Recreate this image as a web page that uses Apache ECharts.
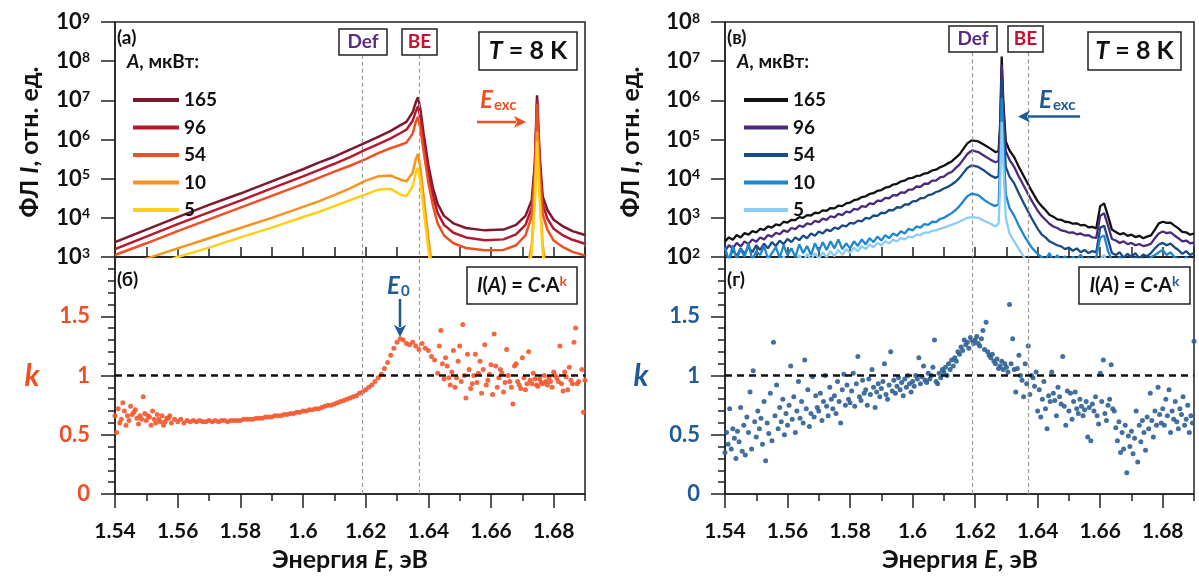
<!DOCTYPE html>
<html><head><meta charset="utf-8">
<script src="https://cdn.jsdelivr.net/npm/echarts@6/dist/echarts.min.js"></script>
<style>html,body{margin:0;padding:0;background:#fff}#c{width:1199px;height:576px}</style>
</head><body><div id="c"></div>
<script>
// ---------- data ----------
const xMin = 1.54, xMax = 1.69, xStep = 0.02;
const powers = ['165', '96', '54', '10', '5'];           // мкВт
const defE = 1.619, beE = 1.637;

// panel (a): energies and log10 of PL intensity
const eLeft = [1.540,1.550,1.560,1.570,1.580,1.590,1.600,1.605,1.610,1.615,1.620,1.624,1.628,1.631,1.633,1.635,1.636,1.6367,1.6375,1.6385,1.640,1.6415,1.643,1.645,1.648,1.652,1.658,1.664,1.668,1.671,1.673,1.674,1.6747,1.6755,1.6765,1.678,1.680,1.683,1.686,1.690];
const logL165 = [3.38,3.70,4.02,4.33,4.62,4.93,5.24,5.41,5.56,5.74,5.92,6.07,6.22,6.36,6.45,6.70,6.95,7.08,6.75,6.15,5.35,4.75,4.35,4.05,3.86,3.74,3.68,3.70,3.82,4.05,4.45,5.40,7.13,5.60,4.55,4.20,3.95,3.78,3.66,3.56];
const logL96  = [3.20,3.52,3.84,4.14,4.44,4.75,5.06,5.22,5.38,5.55,5.74,5.88,6.03,6.16,6.25,6.48,6.72,6.85,6.55,5.95,5.15,4.55,4.12,3.82,3.62,3.50,3.43,3.45,3.58,3.82,4.25,5.30,7.00,5.45,4.35,3.98,3.72,3.55,3.44,3.34];
const logL54  = [3.05,3.35,3.66,3.96,4.26,4.56,4.86,5.02,5.18,5.33,5.50,5.65,5.78,5.86,5.92,6.15,6.45,6.58,6.25,5.70,4.90,4.30,3.85,3.55,3.35,3.23,3.17,3.18,3.30,3.55,4.05,5.15,6.90,5.25,4.10,3.70,3.42,3.25,3.13,3.04];
const logL10  = [2.70,2.96,3.22,3.48,3.74,4.00,4.28,4.42,4.58,4.75,4.95,5.06,5.08,4.98,4.93,5.15,5.50,5.63,5.25,4.55,3.50,2.50,2.00,2.00,2.00,2.00,2.00,2.00,2.00,2.50,3.30,4.60,6.20,4.70,3.30,2.40,2.00,2.00,2.00,2.00];
const logL5   = [2.40,2.70,3.00,3.24,3.50,3.75,4.02,4.15,4.30,4.45,4.60,4.72,4.74,4.60,4.55,4.80,5.15,5.28,4.90,4.20,3.20,2.30,2.00,2.00,2.00,2.00,2.00,2.00,2.00,2.30,3.10,4.40,5.95,4.50,3.10,2.20,2.00,2.00,2.00,2.00];

// panel (в): three energy ranges (A: low-energy wing, B: Def / BE region, C: high-energy side)
const eRightA = [1.540,1.54125,1.5425,1.54375,1.545,1.54625,1.5475,1.54875,1.550,1.55125,1.5525,1.55375,1.555,1.55625,1.5575,1.55875,1.560,1.56125,1.5625,1.56375,1.565,1.56625,1.5675,1.56875,1.570,1.57125,1.5725,1.57375,1.575,1.57625,1.5775,1.57875,1.580,1.58125,1.5825,1.58375,1.585,1.58625,1.5875,1.58875,1.590,1.59125,1.5925,1.59375,1.595,1.59625,1.5975,1.59875,1.600,1.60125,1.6025,1.60375,1.605,1.60625,1.6075,1.60875,1.610,1.61125,1.6125,1.61375,1.615];
const eRightB = [1.6175,1.619,1.621,1.623,1.625,1.6265,1.6275,1.628,1.6285,1.629,1.6298,1.631,1.6325,1.634,1.636,1.638];
const eRightC = [1.640,1.64125,1.6425,1.64375,1.645,1.64625,1.6475,1.64875,1.650,1.65125,1.6525,1.65375,1.655,1.65625,1.6575,1.65875,1.660,1.66125,1.6625,1.66375,1.665,1.66625,1.6675,1.66875,1.670,1.67125,1.6725,1.67375,1.675,1.67625,1.6775,1.67875,1.680,1.68125,1.6825,1.68375,1.685,1.68625,1.6875,1.68875,1.690];

const logR165A = [2.40,2.50,2.44,2.56,2.50,2.61,2.57,2.66,2.63,2.72,2.69,2.78,2.75,2.83,2.81,2.90,2.88,2.95,2.94,3.02,3.00,3.07,3.06,3.13,3.12,3.19,3.18,3.25,3.24,3.31,3.30,3.37,3.39,3.45,3.47,3.53,3.55,3.61,3.63,3.69,3.71,3.77,3.79,3.85,3.87,3.93,3.95,4.01,4.02,4.07,4.08,4.13,4.15,4.21,4.23,4.29,4.33,4.39,4.44,4.53,4.62];
const logR165B = [4.90,4.98,4.95,4.86,4.76,4.68,4.70,5.40,7.12,6.00,4.95,4.72,4.55,4.30,4.00,3.70];
const logR165C = [3.42,3.30,3.20,3.08,3.03,2.96,2.95,2.90,2.89,2.85,2.86,2.81,2.82,2.76,2.77,2.73,3.30,3.37,3.05,2.70,2.64,2.58,2.61,2.54,2.57,2.51,2.54,2.48,2.52,2.55,2.70,2.86,2.90,2.87,2.88,2.80,2.73,2.64,2.63,2.57,2.60];

const logR96A = [2.16,2.30,2.22,2.36,2.27,2.40,2.33,2.45,2.39,2.50,2.45,2.56,2.52,2.62,2.58,2.68,2.64,2.74,2.71,2.80,2.77,2.86,2.83,2.92,2.89,2.98,2.95,3.04,3.01,3.10,3.07,3.16,3.14,3.23,3.21,3.30,3.28,3.37,3.35,3.44,3.43,3.51,3.50,3.58,3.57,3.65,3.64,3.72,3.72,3.80,3.79,3.87,3.87,3.95,3.95,4.03,4.05,4.13,4.17,4.27,4.36];
const logR96B = [4.63,4.72,4.68,4.58,4.48,4.42,4.45,5.20,6.90,5.80,4.70,4.48,4.30,4.05,3.75,3.45];
const logR96C = [3.18,3.05,2.95,2.85,2.78,2.74,2.68,2.66,2.62,2.63,2.58,2.60,2.55,2.56,2.50,2.49,3.05,3.12,2.80,2.46,2.42,2.36,2.40,2.33,2.36,2.30,2.33,2.28,2.30,2.34,2.48,2.60,2.65,2.61,2.63,2.55,2.48,2.40,2.42,2.35,2.37];

const logR54A = [2.10,1.95,2.18,2.02,2.22,2.08,2.26,2.12,2.30,2.18,2.34,2.22,2.38,2.28,2.42,2.33,2.46,2.38,2.50,2.43,2.55,2.48,2.60,2.54,2.65,2.60,2.70,2.66,2.75,2.72,2.81,2.78,2.87,2.85,2.93,2.91,3.00,2.98,3.06,3.05,3.13,3.12,3.20,3.19,3.27,3.26,3.34,3.34,3.42,3.43,3.50,3.51,3.58,3.60,3.66,3.69,3.75,3.79,3.85,3.92,4.02];
const logR54B = [4.27,4.34,4.30,4.20,4.08,4.02,4.06,4.90,6.55,5.50,4.30,4.05,3.88,3.62,3.30,3.00];
const logR54C = [2.72,2.58,2.50,2.40,2.35,2.30,2.27,2.20,2.24,2.16,2.22,2.12,2.18,2.10,2.15,2.12,2.75,2.80,2.45,2.10,2.05,2.12,1.98,2.08,2.00,2.10,1.96,2.06,2.02,2.10,2.22,2.32,2.36,2.30,2.34,2.25,2.18,2.08,2.15,2.05,2.10];

const logR10A = [2.25,1.90,2.30,1.95,2.20,2.00,2.35,1.92,2.15,2.05,2.28,1.95,2.10,2.25,1.98,2.30,2.05,2.22,2.00,2.32,2.10,2.28,2.05,2.35,2.15,2.38,2.18,2.40,2.22,2.45,2.20,2.35,2.22,2.40,2.28,2.45,2.32,2.48,2.38,2.52,2.42,2.56,2.48,2.60,2.54,2.66,2.60,2.72,2.68,2.78,2.75,2.84,2.82,2.90,2.89,2.97,3.00,3.06,3.12,3.20,3.30];
const logR10B = [3.55,3.62,3.58,3.45,3.35,3.30,3.35,4.40,6.05,5.00,3.60,3.25,3.05,2.80,2.50,2.25];
const logR10C = [2.08,2.00,1.92,2.10,1.88,2.05,1.90,2.02,1.85,2.00,1.92,2.06,1.88,1.98,1.90,2.00,2.50,2.55,2.15,1.92,1.85,2.00,1.88,1.95,1.82,1.98,1.86,1.96,1.90,2.00,2.05,2.12,2.18,2.05,2.12,2.00,1.95,1.88,2.00,1.90,1.96];

const logR5A = [1.75,1.90,1.70,1.85,1.72,1.95,1.78,1.88,1.70,1.92,1.80,1.98,1.75,1.90,1.82,2.02,1.80,1.95,1.85,2.05,1.88,2.08,1.92,2.10,1.95,2.12,2.00,2.15,2.02,2.18,2.05,2.20,2.10,2.24,2.14,2.28,2.20,2.32,2.25,2.36,2.30,2.40,2.35,2.44,2.40,2.48,2.45,2.52,2.50,2.57,2.56,2.62,2.62,2.67,2.68,2.72,2.75,2.79,2.82,2.86,2.90];
const logR5B = [3.00,3.02,3.00,2.92,2.85,2.78,2.85,3.80,5.45,4.40,3.00,2.60,2.40,2.20,1.95,1.80];
const logR5C = [1.75,1.70,1.72,1.68,1.70,1.66,1.70,1.68,1.70,1.66,1.70,1.68,1.70,1.66,1.70,1.72,1.95,2.05,1.80,1.70,1.68,1.70,1.66,1.70,1.68,1.70,1.66,1.70,1.68,1.72,1.75,1.80,1.85,1.80,1.82,1.75,1.72,1.70,1.72,1.68,1.70];

// panel (б): k sampled every 0.001 eV from 1.540
const kLeftStart = 1.540, kLeftStep = 0.001;
const kLeft = [0.66,0.72,0.63,0.70,0.66,0.74,0.69,0.64,0.66,0.82,
0.62,0.65,0.70,0.60,0.63,0.66,0.61,0.64,0.60,0.63,
0.61,0.63,0.60,0.62,0.61,0.62,0.61,0.62,0.61,0.61,
0.62,0.61,0.62,0.61,0.62,0.62,0.61,0.62,0.62,0.62,
0.62,0.63,0.63,0.63,0.63,0.64,0.64,0.64,0.65,0.65,
0.65,0.66,0.66,0.66,0.67,0.67,0.68,0.68,0.69,0.69,
0.70,0.70,0.71,0.71,0.72,0.72,0.73,0.74,0.75,0.75,
0.76,0.77,0.78,0.79,0.80,0.81,0.82,0.83,0.85,0.86,
0.88,0.90,0.92,0.95,0.98,1.01,1.06,1.11,1.17,1.23,
1.28,1.31,1.30,1.27,1.26,1.28,1.25,1.22,1.27,1.23,
1.21,1.16,1.13,1.02,1.38,0.97,1.08,0.92,1.21,0.98,
1.25,1.43,0.81,1.05,0.93,1.18,1.02,0.85,1.26,0.96,
1.09,1.35,0.90,1.05,0.86,1.22,0.95,0.76,1.10,0.92,
1.15,0.88,1.20,0.93,0.97,0.91,0.94,1.00,0.92,0.95,
1.03,0.98,1.25,0.87,0.99,1.07,0.93,1.40,0.95,1.05,
0.96];
// extra scattered points of panel (б)
const kLeftExtraE = [1.5405,1.5415,1.5425,1.5435,1.5445,1.5455,1.5465,1.5475,1.5485,1.5495,1.5505,1.5515,1.5525,1.5535,1.5545,1.5555,1.5565,1.5575,
1.6435,1.6445,1.6455,1.6465,1.6475,1.6485,1.6495,1.6505,1.6515,1.6525,1.6535,1.6545,1.6555,1.6565,1.6575,1.6585,1.6595,1.6605,1.6615,1.6625,1.6635,1.6645,1.6655,1.6665,1.6675,1.6685,1.6695,1.6705,1.6715,1.6725,1.6735,1.6745,1.6755,1.6765,1.6775,1.6785,1.6795,1.6805,1.6815,1.6825,1.6835,1.6845,1.6855,1.6865,1.6875,1.6895];
const kLeftExtraK = [0.52,0.60,0.77,0.58,0.62,0.67,0.71,0.59,0.63,0.68,0.66,0.58,0.63,0.67,0.61,0.58,0.64,0.66,
1.25,1.10,1.15,0.98,1.03,0.90,1.12,0.95,1.00,1.18,0.89,1.00,0.94,1.12,1.05,0.92,1.01,0.84,1.08,0.98,1.02,0.94,1.00,0.90,1.08,0.95,0.89,0.98,0.93,0.96,1.02,0.92,0.97,0.93,0.95,0.98,0.90,1.00,0.95,0.93,1.03,0.88,0.96,1.28,0.93,0.69];

// panel (г): k sampled every 0.0005 eV from 1.540
const kRightStart = 1.540, kRightStep = 0.0005;
const kRight = [0.35,0.52,0.42,0.72,0.38,0.55,0.47,0.30,0.53,0.44,
0.73,0.36,0.58,0.33,0.65,0.52,0.86,0.38,1.04,0.61,
0.48,0.70,0.55,0.64,0.42,0.78,0.28,0.60,0.51,0.85,
0.45,1.28,0.66,0.92,0.55,0.73,0.61,0.80,0.50,0.68,
0.58,0.75,1.08,0.63,0.82,0.52,0.70,0.95,0.64,0.78,
0.60,1.13,0.72,0.88,0.57,0.68,0.99,0.65,0.83,0.73,
0.70,0.85,0.62,0.78,1.00,0.74,0.66,0.90,0.80,0.72,
0.83,0.68,0.95,0.78,0.60,0.88,1.01,0.75,0.92,0.80,
0.77,0.87,1.02,0.74,0.93,1.16,0.82,0.79,0.96,0.85,
0.88,0.75,0.97,0.84,1.05,0.90,0.73,0.86,0.93,0.82,
0.89,0.95,1.10,0.84,0.80,0.92,1.20,0.87,0.96,0.85,
0.91,0.98,0.88,0.94,0.83,0.97,0.90,1.00,0.93,0.86,
0.95,0.91,1.00,0.97,1.15,0.93,0.99,1.08,0.96,0.94,
1.02,0.97,1.00,1.07,1.30,0.95,0.93,1.02,0.98,1.05,
1.03,1.07,1.00,1.10,1.05,1.13,1.08,1.15,1.12,1.20,
1.18,1.24,1.21,1.30,1.26,1.28,1.23,1.32,1.30,1.27,
1.30,1.33,1.27,1.25,1.31,1.38,1.22,1.45,1.20,1.17,
1.15,1.18,1.12,1.10,1.14,1.06,1.08,1.12,1.05,1.10,
1.07,1.03,1.60,1.10,1.31,1.05,0.86,1.06,1.17,1.00,
0.96,0.82,1.10,0.93,1.25,0.84,1.00,0.98,0.91,1.03,
0.70,0.88,0.65,0.80,0.95,0.72,0.55,0.83,0.78,1.03,
0.85,0.79,0.66,0.90,0.82,0.76,1.16,0.74,0.58,0.87,
0.70,0.85,0.63,0.78,0.86,0.72,0.68,0.80,0.74,0.66,
0.71,0.78,0.48,0.73,0.45,0.76,0.70,0.82,0.66,0.59,
1.02,0.78,1.13,0.68,0.62,0.75,0.80,1.09,0.72,0.70,
0.56,0.45,0.61,0.35,0.52,0.38,0.58,0.18,0.49,0.40,
0.53,0.34,0.47,0.70,0.27,0.58,0.44,0.62,0.52,0.37,
0.65,0.55,0.85,0.62,0.48,0.70,0.58,0.90,0.67,0.60,
0.72,0.58,0.80,0.66,0.88,0.52,0.70,0.63,0.78,0.61,
0.55,0.72,0.67,0.82,0.58,0.63,0.75,0.52,0.66,0.60,
1.29];

// ---------- styling ----------
const TF = 'Lato, "Open Sans", sans-serif';
const colorsL = ['#7b1a2c', '#b5182f', '#f04e23', '#f7931e', '#fdd017'];
const colorsR = ['#111111', '#4b2a7b', '#1a4a85', '#1f86d0', '#8dccf5'];
const orange = '#f04e23', blue = '#1f5a96';
const AX = '#222';

const logsL = [logL165, logL96, logL54, logL10, logL5];
const eRight = [...eRightA, ...eRightB, ...eRightC];
const logsR = [
  [...logR165A, ...logR165B, ...logR165C],
  [...logR96A, ...logR96B, ...logR96C],
  [...logR54A, ...logR54B, ...logR54C],
  [...logR10A, ...logR10B, ...logR10C],
  [...logR5A, ...logR5B, ...logR5C]
];

function mainX(gi, isTop) {
  return {
    type: 'value', gridIndex: gi, min: xMin, max: xMax, interval: xStep, position: 'bottom',
    axisLine: { show: true, onZero: false, lineStyle: { color: AX, width: 1.5 } },
    axisTick: { show: true, inside: isTop, length: isTop ? 10 : 14, lineStyle: { color: AX, width: 1.5 } },
    splitLine: { show: false },
    axisLabel: { show: !isTop, margin: 27, fontFamily: TF, fontWeight: 'bold', fontSize: 21, color: '#111',
      showMaxLabel: false, formatter: v => String(+v.toFixed(2)) }
  };
}
function minorX(gi, isTop) {
  return {
    type: 'value', gridIndex: gi, min: xMin, max: xMax, interval: 0.01, position: 'bottom',
    axisLine: { show: false, onZero: false },
    axisTick: { show: true, inside: isTop, length: isTop ? 10 : 7, lineStyle: { color: AX, width: 1.5 } },
    splitLine: { show: false }, axisLabel: { show: false }
  };
}
function logY(gi, min, max) {
  return {
    type: 'log', logBase: 10, gridIndex: gi, min, max,
    axisLine: { show: true, lineStyle: { color: AX, width: 1.5 } },
    axisTick: { show: true, length: 14, lineStyle: { color: AX, width: 1.5 } },
    splitLine: { show: false }, minorTick: { show: false },
    axisLabel: {
      margin: 25,
      formatter: v => '{b|10}{s|' + Math.round(Math.log10(v)) + '}',
      rich: {
        b: { fontFamily: TF, fontWeight: 'bold', fontSize: 22, color: '#111', lineHeight: 22 },
        s: { fontFamily: TF, fontWeight: 'bold', fontSize: 14, color: '#111', lineHeight: 13, verticalAlign: 'top' }
      }
    }
  };
}
function kY(gi, col) {
  return {
    type: 'value', gridIndex: gi, min: 0, max: 2, interval: 0.5,
    axisLine: { show: true, onZero: false, lineStyle: { color: AX, width: 1.5 } },
    axisTick: { show: true, length: 14, lineStyle: { color: AX, width: 1.5 } },
    minorTick: { show: true, splitNumber: 5, length: 7, lineStyle: { color: AX, width: 1.5 } },
    splitLine: { show: false },
    axisLabel: { margin: 25, fontFamily: TF, fontWeight: 'bold', fontSize: 22, color: col, showMaxLabel: false,
      formatter: v => String(v) }
  };
}

const vDash = { color: '#9a9a9a', width: 1.2, type: [4, 3] };
const series = [];
powers.forEach((p, i) => {
  const s = {
    type: 'line', name: 'L' + p, xAxisIndex: 0, yAxisIndex: 0, color: colorsL[i],
    data: eLeft.map((e, j) => [e, Math.pow(10, logsL[i][j])]),
    showSymbol: false, symbol: 'none', clip: true, z: 2 + i,
    lineStyle: { width: 2.5, color: colorsL[i] }
  };
  if (i === 0) s.markLine = { silent: true, precision: 4, symbol: ['none', 'none'], label: { show: false }, lineStyle: vDash,
    data: [[{ coord: [defE, 1.45e8] }, { coord: [defE, 1e3] }], [{ coord: [beE, 1.45e8] }, { coord: [beE, 1e3] }]] };
  series.push(s);
});
powers.forEach((p, i) => {
  const s = {
    type: 'line', name: 'R' + p, xAxisIndex: 2, yAxisIndex: 2, color: colorsR[i],
    data: eRight.map((e, j) => [e, Math.pow(10, logsR[i][j])]),
    showSymbol: false, symbol: 'none', clip: true, z: 2 + i,
    lineStyle: { width: 2.3, color: colorsR[i] }
  };
  if (i === 0) s.markLine = { silent: true, precision: 4, symbol: ['none', 'none'], label: { show: false }, lineStyle: vDash,
    data: [[{ coord: [defE, 1.7e7] }, { coord: [defE, 1e2] }], [{ coord: [beE, 1.7e7] }, { coord: [beE, 1e2] }]] };
  series.push(s);
});
const kMarks = { silent: true, precision: 4, symbol: ['none', 'none'], label: { show: false },
  data: [
    { xAxis: defE, lineStyle: vDash }, { xAxis: beE, lineStyle: vDash },
    { yAxis: 1, lineStyle: { color: '#111', width: 2.5, type: [7, 5] } }
  ] };
series.push({ type: 'scatter', xAxisIndex: 1, yAxisIndex: 1, symbolSize: 5,
  itemStyle: { color: '#f4572c', opacity: 0.9 },
  data: kLeft.map((k, i) => [kLeftStart + i * kLeftStep, k]), markLine: kMarks, z: 3 });
series.push({ type: 'scatter', xAxisIndex: 1, yAxisIndex: 1, symbolSize: 5,
  itemStyle: { color: '#f4572c', opacity: 0.9 },
  data: kLeftExtraE.map((e, i) => [e, kLeftExtraK[i]]), z: 3 });
series.push({ type: 'scatter', xAxisIndex: 3, yAxisIndex: 3, symbolSize: 5,
  itemStyle: { color: '#2e5f95', opacity: 0.9 },
  data: kRight.map((k, i) => [kRightStart + i * kRightStep, k]), markLine: kMarks, z: 3 });

function legend(left, prefix, w) {
  return {
    data: powers.map(p => prefix + p), orient: 'vertical', left, top: 85,
    itemWidth: w, itemHeight: 4, itemGap: 7.5, icon: 'rect', selectedMode: false,
    formatter: n => n.slice(1),
    textStyle: { fontFamily: TF, fontWeight: 'bold', fontSize: 19, color: '#111', lineHeight: 20 }
  };
}

// ---------- annotations ----------
const base = { fontFamily: TF, fontWeight: 'bold', fill: '#111' };
function T(x, y, text, st, extra) {
  return Object.assign({ type: 'text', x, y, z: 102, style: Object.assign({ text, align: 'left', verticalAlign: 'middle', fontSize: 18 }, base, st || {}) }, extra || {});
}
function box(x, y, w, h) {
  return { type: 'rect', z: 101, shape: { x, y, width: w, height: h }, style: { fill: '#fff', stroke: '#222', lineWidth: 1.5 } };
}
function arrow(x1, y1, x2, y2, col) {
  const dx = x2 - x1, dy = y2 - y1, L = Math.hypot(dx, dy), ux = dx / L, uy = dy / L;
  const hx = x2 - ux * 12, hy = y2 - uy * 12;
  return [
    { type: 'line', z: 102, shape: { x1, y1, x2: hx + ux * 2, y2: hy + uy * 2 }, style: { stroke: col, lineWidth: 2.5 } },
    { type: 'polygon', z: 102, shape: { points: [[x2, y2], [hx - uy * 6, hy + ux * 6], [hx + ux * 3, hy + uy * 3], [hx + uy * 6, hy - ux * 6]] }, style: { fill: col } }
  ];
}
const ital = (size, fill) => ({ fontFamily: TF, fontWeight: 'bold', fontStyle: 'italic', fontSize: size, fill: fill || '#111' });
const supS = (size, fill) => ({ fontFamily: TF, fontWeight: 'bold', fontSize: size, fill: fill || '#111', verticalAlign: 'top', lineHeight: size });
const subS = (size, fill) => ({ fontFamily: TF, fontWeight: 'bold', fontSize: size, fill: fill || '#111', verticalAlign: 'bottom', lineHeight: size });
const eqRich = col => ({ i: Object.assign(ital(20), { lineHeight: 24 }), n: { fontFamily: TF, fontWeight: 'bold', fontSize: 20, fill: '#111', lineHeight: 24 }, k: supS(14, col) });
const exRich = col => ({ e: Object.assign(ital(24, col), { lineHeight: 30 }), s: Object.assign(subS(15, col), { padding: [0, 0, 2, 1] }) });

const graphic = [
  // axis titles
  T(30, 142, 'ФЛ {i|I}, отн. ед.', { fontSize: 25, align: 'center', rich: { i: ital(25) } }, { rotation: Math.PI / 2 }),
  T(631, 142, 'ФЛ {i|I}, отн. ед.', { fontSize: 25, align: 'center', rich: { i: ital(25) } }, { rotation: Math.PI / 2 }),
  T(32, 376, 'k', { fontSize: 30, fontStyle: 'italic', fill: orange, align: 'center' }),
  T(641, 376, 'k', { fontSize: 30, fontStyle: 'italic', fill: blue, align: 'center' }),
  T(350, 560, 'Энергия {i|E}, эВ', { fontSize: 25, align: 'center', rich: { i: ital(25) } }),
  T(960, 560, 'Энергия {i|E}, эВ', { fontSize: 25, align: 'center', rich: { i: ital(25) } }),
  // panel tags
  T(117, 38, '(a)', { fontSize: 19 }), T(727, 38, '(в)', { fontSize: 19 }),
  T(117, 280, '(б)', { fontSize: 19 }), T(727, 280, '(г)', { fontSize: 19 }),
  T(127, 62, '{i|A}, мкВт:', { fontSize: 19, rich: { i: ital(19) } }),
  T(737, 62, '{i|A}, мкВт:', { fontSize: 19, rich: { i: ital(19) } }),
  // Def / BE boxes
  box(339, 29, 48, 26), T(363, 42, 'Def', { fontSize: 19, align: 'center', fill: '#5b2a86' }),
  box(402, 29, 35, 26), T(419.5, 42, 'BE', { fontSize: 19, align: 'center', fill: '#c8102e' }),
  box(949, 26, 48, 26), T(973, 39, 'Def', { fontSize: 19, align: 'center', fill: '#5b2a86' }),
  box(1008, 26, 35, 26), T(1025.5, 39, 'BE', { fontSize: 19, align: 'center', fill: '#c8102e' }),
  // T = 8 K
  box(479, 32, 98, 38), T(528, 51, '{i|T} = 8 K', { fontSize: 25, align: 'center', rich: { i: ital(25) } }),
  box(1088, 32, 93, 38), T(1134.5, 51, '{i|T} = 8 K', { fontSize: 25, align: 'center', rich: { i: ital(25) } }),
  // I(A) = C·A^k
  box(467, 267, 110, 37), T(522, 286, '{i|I}{n|(}{i|A}{n|) = }{i|C}{n|·A}{k|k}', { fontSize: 20, align: 'center', rich: eqRich(orange) }),
  box(1079, 267, 111, 37), T(1134.5, 286, '{i|I}{n|(}{i|A}{n|) = }{i|C}{n|·A}{k|k}', { fontSize: 20, align: 'center', rich: eqRich(blue) }),
  // E_exc labels and arrows
  T(480, 100, '{e|E}{s|exc}', { rich: exRich(orange) }),
  ...arrow(477, 122, 526, 122, orange),
  T(1039, 100, '{e|E}{s|exc}', { rich: exRich(blue) }),
  ...arrow(1080, 116.5, 1018, 116.5, blue),
  // E0
  T(387, 286, '{e|E}{s|0}', { rich: exRich(blue) }),
  ...arrow(400, 299, 400, 337, blue)
];

const grids = [
  { left: 115, top: 22, width: 470, height: 235 },
  { left: 115, top: 257, width: 470, height: 237 },
  { left: 725, top: 22, width: 469, height: 235 },
  { left: 725, top: 257, width: 469, height: 237 }
].map(g => Object.assign(g, { show: true, borderColor: AX, borderWidth: 1.5, containLabel: false, outerBoundsMode: 'none' }));

const chart = echarts.init(document.getElementById('c'), null, { renderer: 'canvas' });
chart.setOption({
  animation: false,
  backgroundColor: '#fff',
  grid: grids,
  xAxis: [mainX(0, true), mainX(1, false), mainX(2, true), mainX(3, false),
          minorX(0, true), minorX(1, false), minorX(2, true), minorX(3, false)],
  yAxis: [logY(0, 1e3, 1e9), kY(1, orange), logY(2, 1e2, 1e8), kY(3, blue)],
  legend: [legend(128, 'L', 46), legend(739, 'R', 44)],
  series,
  graphic
});
</script>
</body></html>
